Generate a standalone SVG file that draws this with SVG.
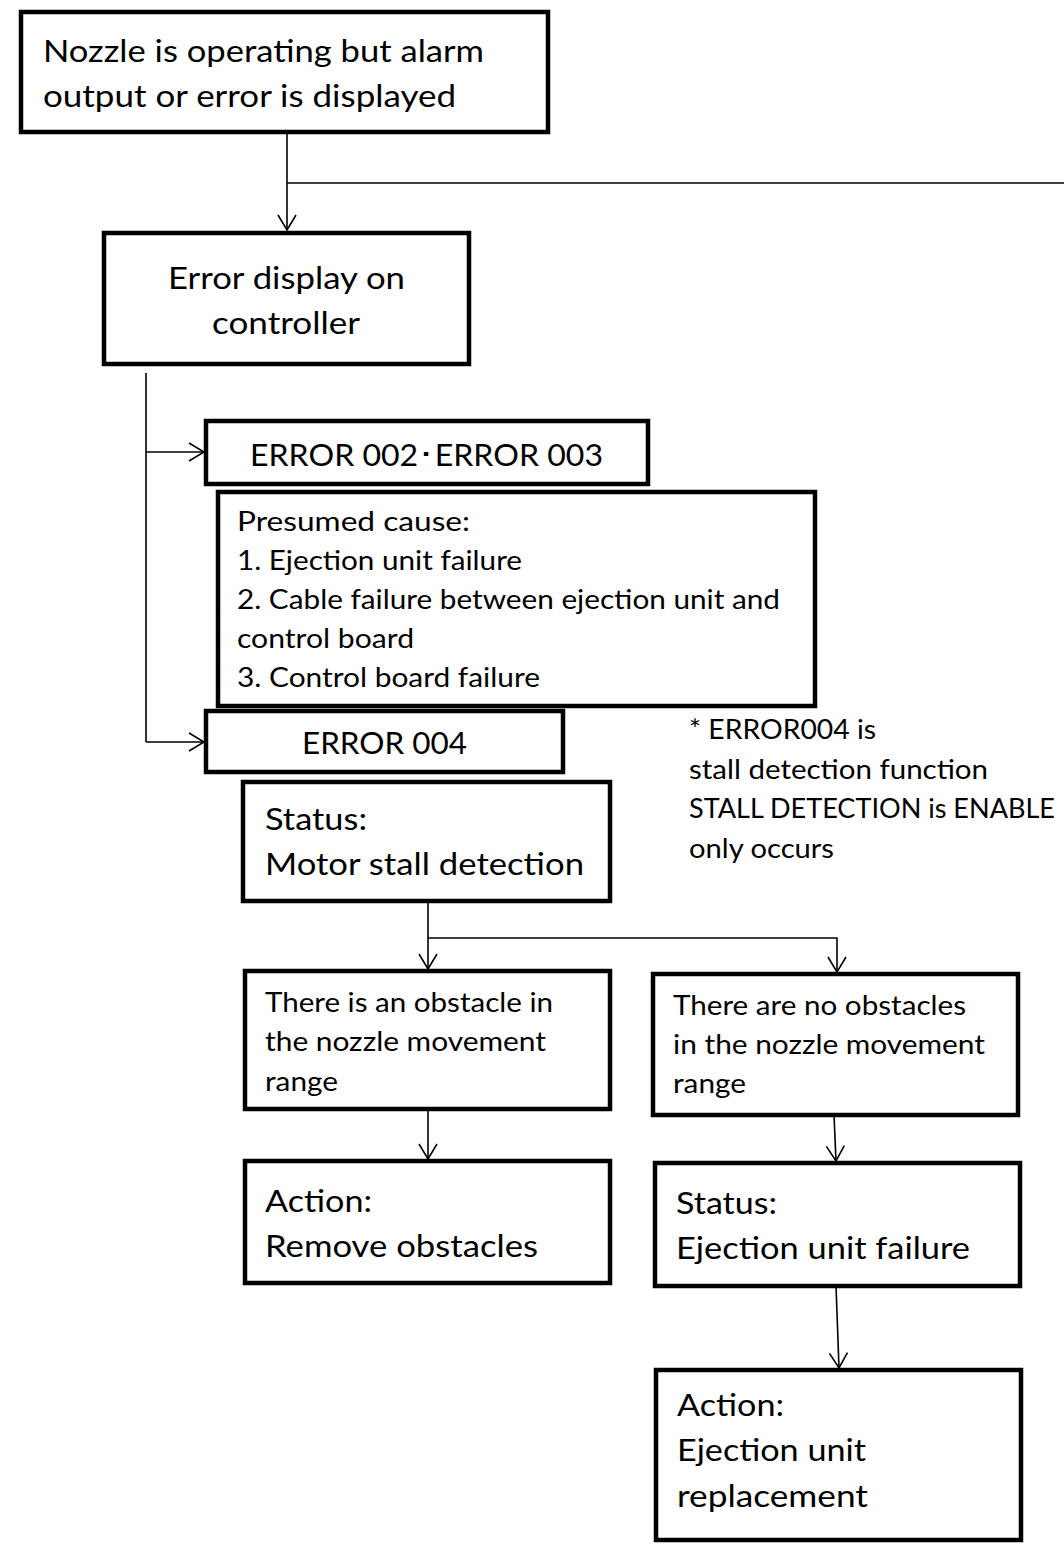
<svg xmlns="http://www.w3.org/2000/svg" width="1064" height="1545" viewBox="0 0 1064 1545">
<defs>
<marker id="arr" markerUnits="userSpaceOnUse" markerWidth="20" markerHeight="24" refX="16" refY="10" orient="auto" viewBox="0 0 20 20">
<path d="M1,1 L16,10 L1,19" fill="none" stroke="#000" stroke-width="1.6"/>
</marker>
<style>
.box{fill:#fff;stroke:#000;stroke-width:4.5}
.t{font-family:Lato,"Open Sans","Liberation Sans",sans-serif;fill:#000}
.b{font-size:31px}
.s{font-size:26px}
.c{text-anchor:middle}
.ln{fill:none;stroke:#000;stroke-width:1.6}
</style>
</defs>
<rect width="1064" height="1545" fill="#fff"/>
<g id="connectors">
<path class="ln" d="M287,132 V230" marker-end="url(#arr)"/>
<path class="ln" d="M287,183 H1064"/>
<path class="ln" d="M146,373 V742"/>
<path class="ln" d="M146,452 H204" marker-end="url(#arr)"/>
<path class="ln" d="M146,742 H204" marker-end="url(#arr)"/>
<path class="ln" d="M428,901 V969" marker-end="url(#arr)"/>
<path class="ln" d="M428,938 H837 V972" marker-end="url(#arr)"/>
<path class="ln" d="M428,1109 V1159" marker-end="url(#arr)"/>
<path class="ln" d="M834,1115 L836,1161" marker-end="url(#arr)"/>
<path class="ln" d="M836,1286 L839,1368" marker-end="url(#arr)"/>
</g>
<g id="n1">
<rect class="box" x="21" y="12" width="527" height="120"/>
<text class="t b" x="43" y="62" textLength="441" lengthAdjust="spacingAndGlyphs">Nozzle is operating but alarm</text>
<text class="t b" x="43" y="107" textLength="413" lengthAdjust="spacingAndGlyphs">output or error is displayed</text>
</g>
<g id="n2">
<rect class="box" x="104" y="233" width="365" height="131"/>
<text class="t b" x="168" y="289" textLength="237" lengthAdjust="spacingAndGlyphs">Error display on</text>
<text class="t b" x="212" y="334" textLength="148" lengthAdjust="spacingAndGlyphs">controller</text>
</g>
<g id="n3">
<rect class="box" x="206" y="421" width="442" height="63"/>
<text class="t b" x="250" y="466" textLength="353" lengthAdjust="spacingAndGlyphs">ERROR 002･ERROR 003</text>
</g>
<g id="n4">
<rect class="box" x="218" y="492" width="597" height="214"/>
<text class="t s" x="237" y="531" textLength="233" lengthAdjust="spacingAndGlyphs">Presumed cause:</text>
<text class="t s" x="237" y="570" textLength="285" lengthAdjust="spacingAndGlyphs">1. Ejection unit failure</text>
<text class="t s" x="237" y="609" textLength="543" lengthAdjust="spacingAndGlyphs">2. Cable failure between ejection unit and</text>
<text class="t s" x="237" y="648" textLength="177" lengthAdjust="spacingAndGlyphs">control board</text>
<text class="t s" x="237" y="687" textLength="303" lengthAdjust="spacingAndGlyphs">3. Control board failure</text>
</g>
<g id="n5">
<rect class="box" x="206" y="711" width="357" height="61"/>
<text class="t b" x="302" y="754" textLength="165" lengthAdjust="spacingAndGlyphs">ERROR 004</text>
</g>
<g id="note">
<text class="t s" x="689" y="739" textLength="187" lengthAdjust="spacingAndGlyphs">* ERROR004 is</text>
<text class="t s" x="689" y="779" textLength="299" lengthAdjust="spacingAndGlyphs">stall detection function</text>
<text class="t s" x="689" y="818" textLength="366" lengthAdjust="spacingAndGlyphs">STALL DETECTION is ENABLE</text>
<text class="t s" x="689" y="858" textLength="145" lengthAdjust="spacingAndGlyphs">only occurs</text>
</g>
<g id="n6">
<rect class="box" x="243" y="782" width="367" height="119"/>
<text class="t b" x="265" y="830" textLength="102" lengthAdjust="spacingAndGlyphs">Status:</text>
<text class="t b" x="265" y="875" textLength="319" lengthAdjust="spacingAndGlyphs">Motor stall detection</text>
</g>
<g id="n7">
<rect class="box" x="245" y="971" width="365" height="138"/>
<text class="t s" x="265" y="1012" textLength="288" lengthAdjust="spacingAndGlyphs">There is an obstacle in</text>
<text class="t s" x="265" y="1051" textLength="281" lengthAdjust="spacingAndGlyphs">the nozzle movement</text>
<text class="t s" x="265" y="1091" textLength="73" lengthAdjust="spacingAndGlyphs">range</text>
</g>
<g id="n8">
<rect class="box" x="653" y="974" width="365" height="141"/>
<text class="t s" x="673" y="1015" textLength="293" lengthAdjust="spacingAndGlyphs">There are no obstacles</text>
<text class="t s" x="673" y="1054" textLength="312" lengthAdjust="spacingAndGlyphs">in the nozzle movement</text>
<text class="t s" x="673" y="1093" textLength="73" lengthAdjust="spacingAndGlyphs">range</text>
</g>
<g id="n9">
<rect class="box" x="245" y="1161" width="365" height="122"/>
<text class="t b" x="265" y="1212" textLength="107" lengthAdjust="spacingAndGlyphs">Action:</text>
<text class="t b" x="265" y="1257" textLength="273" lengthAdjust="spacingAndGlyphs">Remove obstacles</text>
</g>
<g id="n10">
<rect class="box" x="655" y="1163" width="365" height="123"/>
<text class="t b" x="676" y="1214" textLength="101" lengthAdjust="spacingAndGlyphs">Status:</text>
<text class="t b" x="676" y="1259" textLength="294" lengthAdjust="spacingAndGlyphs">Ejection unit failure</text>
</g>
<g id="n11">
<rect class="box" x="656" y="1370" width="365" height="170"/>
<text class="t b" x="677" y="1416" textLength="107" lengthAdjust="spacingAndGlyphs">Action:</text>
<text class="t b" x="677" y="1461" textLength="189" lengthAdjust="spacingAndGlyphs">Ejection unit</text>
<text class="t b" x="677" y="1507" textLength="191" lengthAdjust="spacingAndGlyphs">replacement</text>
</g>
</svg>
